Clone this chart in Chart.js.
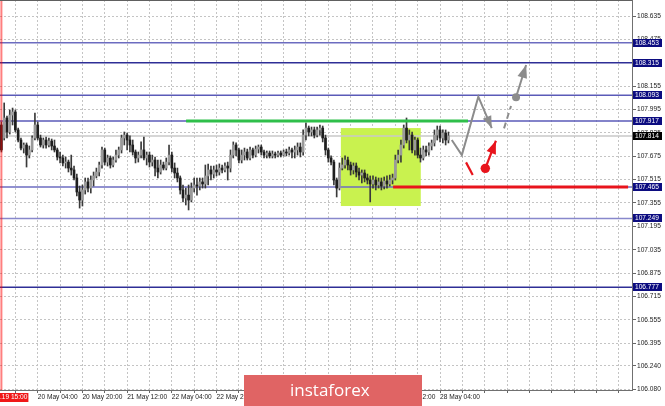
<!DOCTYPE html>
<html>
<head>
<meta charset="utf-8">
<script src="https://cdn.jsdelivr.net/npm/chart.js@4.4.1/dist/chart.umd.min.js"></script>
<style>
html, body { margin: 0; padding: 0; background: #fff; }
#wrap { width: 665px; height: 406px; }
</style>
</head>
<body>
<div id="wrap"><canvas id="c" width="665" height="406"></canvas></div>
<script>
// ── Velas H1 (USD/JPY), indice de barra 0 = 19 May 15:00 ─────────
const openP = [
  107.889,107.800,107.937,107.841,107.957,107.978,107.855,107.786,107.731,107.752,
  107.683,107.718,107.800,107.889,107.800,107.752,107.786,107.752,107.779,107.745,
  107.718,107.670,107.663,107.629,107.635,107.594,107.581,107.526,107.430,107.375,
  107.444,107.499,107.457,107.512,107.540,107.567,107.615,107.718,107.635,107.663,
  107.615,107.649,107.683,107.718,107.800,107.820,107.786,107.752,107.704,107.663,
  107.683,107.718,107.663,107.683,107.635,107.649,107.594,107.567,107.615,107.594,
  107.635,107.683,107.594,107.560,107.526,107.444,107.389,107.409,107.375,107.457,
  107.478,107.471,107.499,107.485,107.540,107.581,107.553,107.581,107.567,107.594,
  107.581,107.608,107.594,107.683,107.752,107.718,107.649,107.683,107.704,107.663,
  107.718,107.683,107.724,107.738,107.704,107.683,107.697,107.677,107.690,107.683,
  107.697,107.683,107.704,107.697,107.718,107.704,107.718,107.738,107.704,107.820,
  107.868,107.841,107.855,107.820,107.855,107.868,107.800,107.718,107.663,107.635,
  107.512,107.457,107.594,107.615,107.649,107.615,107.581,107.608,107.567,107.546,
  107.560,107.526,107.512,107.485,107.512,107.478,107.499,107.471,107.505,107.485,
  107.512,107.526,107.649,107.683,107.752,107.868,107.786,107.820,107.718,107.786,
  107.683,107.663,107.718,107.704,107.745,107.766,107.820,107.855,107.800,107.834,
  107.786
];
const highP = [
  107.909,108.040,107.950,107.992,108.005,107.992,107.868,107.800,107.766,107.766,
  107.745,107.814,107.971,107.909,107.820,107.800,107.807,107.800,107.793,107.786,
  107.731,107.704,107.683,107.670,107.649,107.683,107.608,107.553,107.471,107.478,
  107.526,107.526,107.540,107.567,107.594,107.635,107.738,107.731,107.683,107.677,
  107.670,107.718,107.738,107.820,107.841,107.834,107.814,107.786,107.718,107.704,
  107.773,107.807,107.704,107.704,107.683,107.670,107.649,107.649,107.635,107.663,
  107.752,107.704,107.629,107.594,107.540,107.478,107.457,107.478,107.492,107.526,
  107.526,107.526,107.526,107.615,107.622,107.608,107.608,107.615,107.622,107.615,
  107.629,107.635,107.718,107.773,107.766,107.731,107.718,107.731,107.724,107.738,
  107.731,107.745,107.752,107.752,107.718,107.711,107.711,107.711,107.704,107.711,
  107.711,107.718,107.724,107.738,107.731,107.745,107.766,107.766,107.855,107.903,
  107.882,107.875,107.875,107.875,107.889,107.882,107.820,107.731,107.677,107.649,
  107.526,107.629,107.663,107.677,107.670,107.635,107.629,107.629,107.594,107.581,
  107.581,107.553,107.540,107.540,107.533,107.526,107.526,107.533,107.540,107.546,
  107.553,107.683,107.718,107.786,107.889,107.937,107.855,107.841,107.807,107.800,
  107.731,107.745,107.745,107.766,107.786,107.855,107.882,107.882,107.855,107.855,
  107.841
];
const lowP = [
  107.704,107.786,107.800,107.827,107.889,107.841,107.773,107.718,107.697,107.601,
  107.663,107.704,107.786,107.786,107.738,107.731,107.731,107.738,107.718,107.704,
  107.649,107.629,107.608,107.594,107.567,107.546,107.512,107.403,107.320,107.334,
  107.416,107.430,107.423,107.471,107.526,107.540,107.594,107.615,107.608,107.594,
  107.601,107.635,107.663,107.697,107.752,107.718,107.704,107.683,107.629,107.635,
  107.663,107.649,107.615,107.601,107.608,107.540,107.526,107.553,107.581,107.581,
  107.615,107.567,107.526,107.499,107.416,107.362,107.341,107.307,107.362,107.430,
  107.409,107.444,107.457,107.457,107.478,107.512,107.526,107.540,107.546,107.560,
  107.567,107.512,107.567,107.663,107.677,107.629,107.629,107.649,107.649,107.649,
  107.663,107.670,107.697,107.683,107.663,107.663,107.663,107.663,107.663,107.670,
  107.670,107.677,107.677,107.683,107.663,107.663,107.683,107.670,107.683,107.786,
  107.814,107.814,107.800,107.807,107.820,107.773,107.683,107.635,107.615,107.478,
  107.396,107.444,107.581,107.594,107.581,107.546,107.553,107.533,107.512,107.492,
  107.499,107.485,107.362,107.457,107.444,107.457,107.444,107.451,107.457,107.471,
  107.485,107.512,107.629,107.635,107.731,107.766,107.718,107.697,107.683,107.663,
  107.635,107.649,107.677,107.683,107.718,107.745,107.786,107.773,107.766,107.752,
  107.766
];
const closeP = [
  107.718,107.937,107.841,107.957,107.978,107.855,107.786,107.731,107.752,107.683,
  107.718,107.800,107.889,107.800,107.752,107.786,107.752,107.779,107.745,107.718,
  107.670,107.663,107.629,107.635,107.594,107.581,107.526,107.430,107.375,107.444,
  107.499,107.457,107.512,107.540,107.567,107.615,107.718,107.635,107.663,107.615,
  107.649,107.683,107.718,107.800,107.820,107.786,107.752,107.704,107.663,107.683,
  107.718,107.663,107.683,107.635,107.649,107.594,107.567,107.615,107.594,107.635,
  107.683,107.594,107.560,107.526,107.444,107.389,107.409,107.375,107.457,107.478,
  107.471,107.499,107.485,107.540,107.581,107.553,107.581,107.567,107.594,107.581,
  107.608,107.594,107.683,107.752,107.718,107.649,107.683,107.704,107.663,107.718,
  107.683,107.724,107.738,107.704,107.683,107.697,107.677,107.690,107.683,107.697,
  107.683,107.704,107.697,107.718,107.704,107.718,107.738,107.704,107.820,107.868,
  107.841,107.855,107.820,107.855,107.868,107.800,107.718,107.663,107.635,107.512,
  107.457,107.594,107.615,107.649,107.615,107.581,107.608,107.567,107.546,107.560,
  107.526,107.512,107.485,107.512,107.478,107.499,107.471,107.505,107.485,107.512,
  107.526,107.649,107.683,107.752,107.868,107.786,107.820,107.718,107.786,107.683,
  107.663,107.718,107.704,107.745,107.766,107.820,107.855,107.800,107.834,107.786,
  107.814
];

// ── Ejes ─────────────────────────────────────────────────────────
const priceTicks = [108.635,108.475,108.315,108.155,107.995,107.835,107.675,107.515,107.355,
                    107.195,107.035,106.875,106.715,106.555,106.395,106.240,106.080];
const gridIdx = [5,13,21,29,37,45,53,61,69,77,85,93,101,109,117,125,133,141,149,157,
                 165,173,181,189,197,205,213,221];
const labelIdx = [13,29,45,61,77,93,109,125,141,157];
const labelText = ['20 May 04:00','20 May 20:00','21 May 12:00','22 May 04:00','22 May 20:00',
                   '23 May 12:00','24 May 04:00','24 May 20:00','27 May 12:00','28 May 04:00'];
const startLabel = '2019.05.19 15:00';

// ── Niveles y dibujos ────────────────────────────────────────────
const levels = [108.453,108.315,108.093,107.917,107.465,107.249,106.777];
const lastPrice = 107.814;
const zoneX = [121.5, 150.1];
const zoneY = [107.334, 107.868];
const greenX = [66.1, 167.0];
const greenY = [107.917, 107.917];
const redX = [140.2, 224.3];
const redY = [107.465, 107.465];
const grayPathX = [161.2, 164.8, 170.7, 175.5];
const grayPathY = [107.786, 107.683, 108.083, 107.868];
const grayDashX = [179.9, 182.4];
const grayDashY = [107.866, 108.019];
const grayUpX = [184.2, 187.8];
const grayUpY = [108.079, 108.300];
const redDashX = [166.3, 168.7];
const redDashY = [107.633, 107.546];
const redUpX = [173.2, 177.0];
const redUpY = [107.592, 107.781];

const levelColors = ['#6c6cc0','#2e2e96','#5a5ab8','#5a5ab8','#6c6cc0','#8888cc','#2e2e96'];
const GRAY = '#8c8c8c', RED = '#e8141c', GREEN = '#2fbf4a';
const FONT = { family: 'Liberation Sans', size: 6.6 };

const idx = closeP.map((_, i) => i);

function lineDs(xs, ys, color, width, dash, arrow) {
  return {
    type: 'line', data: xs.map((x, k) => ({ x, y: ys[k] })),
    borderColor: color, borderWidth: width, borderDash: dash || [],
    pointRadius: 0, fill: false, tension: 0, arrowHead: arrow || 0, order: 0,
  };
}
function dotDs(x, y, color, r) {
  return {
    type: 'line', data: [{ x, y }], showLine: false, order: 0,
    pointRadius: r, pointBackgroundColor: color, pointBorderWidth: 0,
  };
}
// sin margenes automaticos: el area del grafico llega al borde
function noPad(s) {
  s.paddingTop = 0; s.paddingBottom = 0; s.paddingLeft = 0; s.paddingRight = 0;
}

// ── Plugins de dibujo ────────────────────────────────────────────
const backPlugin = {
  id: 'back',
  beforeDatasetsDraw(chart) {
    const { ctx, chartArea: a, scales: { x, y } } = chart;
    ctx.save();
    ctx.fillStyle = '#c9f24f';
    const x0 = x.getPixelForValue(zoneX[0]), x1 = x.getPixelForValue(zoneX[1]);
    const y0 = y.getPixelForValue(zoneY[1]), y1 = y.getPixelForValue(zoneY[0]);
    ctx.fillRect(x0, y0, x1 - x0, y1 - y0);
    ctx.lineWidth = 1.5;
    levels.forEach((v, k) => {
      const py = y.getPixelForValue(v);
      ctx.strokeStyle = levelColors[k];
      ctx.beginPath(); ctx.moveTo(a.left, py); ctx.lineTo(a.right, py); ctx.stroke();
    });
    const pl = y.getPixelForValue(lastPrice);
    ctx.strokeStyle = '#c8c8c8';
    ctx.beginPath(); ctx.moveTo(a.left, pl); ctx.lineTo(a.right, pl); ctx.stroke();
    ctx.restore();
  },
};

const arrowPlugin = {
  id: 'arrows',
  afterDatasetsDraw(chart) {
    const { ctx, chartArea: a, scales: { x } } = chart;
    chart.data.datasets.forEach((ds, k) => {
      if (!ds.arrowHead) return;
      const pts = chart.getDatasetMeta(k).data;
      const p = pts[pts.length - 2], q = pts[pts.length - 1];
      const ang = Math.atan2(q.y - p.y, q.x - p.x);
      const L = ds.arrowHead, W = L * 0.38;
      const bx = q.x - L * Math.cos(ang), by = q.y - L * Math.sin(ang);
      ctx.save();
      ctx.fillStyle = ds.borderColor;
      ctx.beginPath();
      ctx.moveTo(q.x, q.y);
      ctx.lineTo(bx + W * Math.sin(ang), by - W * Math.cos(ang));
      ctx.lineTo(bx - W * Math.sin(ang), by + W * Math.cos(ang));
      ctx.closePath(); ctx.fill();
      ctx.restore();
    });
    // linea vertical roja del inicio
    const px = x.getPixelForValue(0);
    ctx.save();
    ctx.globalAlpha = 0.5;
    ctx.fillStyle = '#ff0000';
    ctx.fillRect(px - 1, a.top, 2, a.bottom - a.top);
    ctx.restore();
  },
};

const frontPlugin = {
  id: 'front',
  afterDraw(chart) {
    const { ctx, chartArea: a, scales: { x, y } } = chart;
    ctx.save();
    ctx.fillStyle = '#606060';
    ctx.fillRect(a.left, a.top, a.right - a.left, 1);
    ctx.font = '6.6px "Liberation Sans"';
    ctx.textBaseline = 'middle';
    const tag = (v, bg) => {
      const py = Math.round(y.getPixelForValue(v));
      ctx.fillStyle = bg;
      ctx.fillRect(a.right + 1, py - 4, 29, 8);
      ctx.fillStyle = '#fff';
      ctx.fillText(v.toFixed(3), a.right + 3, py + 0.5);
    };
    levels.forEach(v => tag(v, '#0c0c80'));
    tag(lastPrice, '#000');
    // etiqueta roja de la linea vertical
    const px = x.getPixelForValue(0);
    ctx.fillStyle = '#f01818';
    ctx.fillRect(px - 70, a.bottom + 3, 97, 9);
    ctx.fillStyle = '#fff';
    ctx.textAlign = 'right';
    ctx.fillText(startLabel, px + 26, a.bottom + 7.5);
    // marca de agua
    ctx.fillStyle = '#e06464';
    ctx.fillRect(244, 375, 178, 31);
    ctx.fillStyle = '#fff';
    ctx.textAlign = 'left';
    ctx.font = '17px "Open Sans"';
    ctx.fillText('instaforex', 290, 391);
    ctx.restore();
  },
};

// ── Grafico ──────────────────────────────────────────────────────
new Chart(document.getElementById('c'), {
  type: 'bar',
  data: {
    datasets: [
      lineDs(greenX, greenY, GREEN, 3),
      lineDs(redX, redY, RED, 3),
      lineDs(grayPathX, grayPathY, GRAY, 2, [], 12),
      lineDs(grayDashX, grayDashY, GRAY, 2, [6, 4]),
      lineDs(grayUpX, grayUpY, GRAY, 2, [], 13),
      dotDs(grayUpX[0], grayUpY[0], GRAY, 4),
      lineDs(redDashX, redDashY, RED, 2.2),
      lineDs(redUpX, redUpY, RED, 2.2, [], 13),
      dotDs(redUpX[0], redUpY[0], RED, 4.7),
      {
        type: 'bar', order: 4, grouped: false, barThickness: 2, minBarLength: 1,
        data: idx.map(i => ({ x: i, y: [openP[i], closeP[i]] })),
        backgroundColor: idx.map(i => closeP[i] > openP[i] ? '#9a9a9a' : '#1e1e1e'),
      },
      {
        type: 'bar', order: 5, grouped: false, barThickness: 1,
        data: idx.map(i => ({ x: i, y: [lowP[i], highP[i]] })),
        backgroundColor: '#3a3a3a',
      },
    ],
  },
  options: {
    responsive: false, animation: false,
    layout: { padding: 0, autoPadding: false },
    plugins: { legend: { display: false }, tooltip: { enabled: false } },
    scales: {
      x: {
        type: 'linear', min: -0.5, max: 225.7, offset: false,
        afterBuildTicks: s => { s.ticks = gridIdx.map(v => ({ value: v })); },
        afterFit: s => { s.height = 16; noPad(s); },
        grid: { offset: false, color: '#c4c4c4', tickLength: 3, tickColor: '#666' },
        border: { display: true, color: '#707070', dash: [2, 2] },
        ticks: {
          autoSkip: false, maxRotation: 0, align: 'start', padding: 0,
          color: '#222', font: FONT,
          callback: v => { const k = labelIdx.indexOf(v); return k >= 0 ? labelText[k] : ''; },
        },
      },
      y: {
        type: 'linear', position: 'right', min: 106.074, max: 108.745,
        afterBuildTicks: s => { s.ticks = priceTicks.map(v => ({ value: v })); },
        afterFit: s => { s.width = 33; noPad(s); },
        grid: { color: '#c4c4c4', tickLength: 4, tickColor: '#666' },
        border: { display: true, color: '#707070', dash: [2, 2] },
        ticks: { padding: 1, color: '#222', font: FONT, callback: v => v.toFixed(3) },
      },
    },
  },
  plugins: [backPlugin, arrowPlugin, frontPlugin],
});
</script>
</body>
</html>
